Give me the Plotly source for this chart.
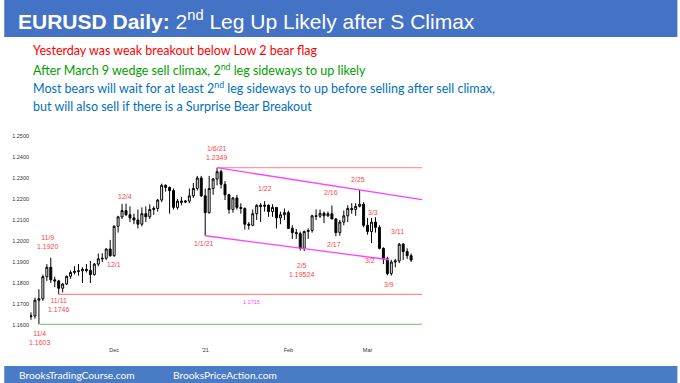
import numpy as np
import pandas as pd
import plotly.graph_objects as go

# ---------------- data ----------------
dates = pd.bdate_range("2020-11-02", "2021-03-16")

opens = [1.1640, 1.1643, 1.1718, 1.1725, 1.1830, 1.1875, 1.1815, 1.1810, 1.1775, 1.1795,
         1.1832, 1.1850, 1.1855, 1.1858, 1.1865, 1.1860, 1.1840, 1.1890, 1.1915, 1.1918,
         1.1962, 1.1930, 1.2070, 1.2115, 1.2145, 1.2125, 1.2110, 1.2100, 1.2080, 1.2130,
         1.2115, 1.2150, 1.2155, 1.2195, 1.2265, 1.2255, 1.2240, 1.2160, 1.2190, 1.2185,
         1.2190, 1.2215, 1.2250, 1.2300, 1.2215, 1.2135, 1.2250, 1.2295, 1.2330, 1.2270,
         1.2220, 1.2150, 1.2205, 1.2160, 1.2155, 1.2080, 1.2075, 1.2130, 1.2170, 1.2165,
         1.2170, 1.2140, 1.2160, 1.2110, 1.2125, 1.2135, 1.2060, 1.2040, 1.2035, 1.1965,
         1.2045, 1.2050, 1.2120, 1.2118, 1.2132, 1.2120, 1.2130, 1.2105, 1.2040, 1.2090,
         1.2120, 1.2155, 1.2150, 1.2165, 1.2175, 1.2075, 1.2045, 1.2090, 1.2065, 1.1965,
         1.1915, 1.1845, 1.1900, 1.1905, 1.1985, 1.1950, 1.1930]
highs = [1.1660, 1.1730, 1.1770, 1.1840, 1.1890, 1.1920, 1.1830, 1.1815, 1.1800, 1.1835,
         1.1860, 1.1880, 1.1890, 1.1875, 1.1890, 1.1905, 1.1895, 1.1940, 1.1942, 1.1965,
         1.2005, 1.2075, 1.2120, 1.2177, 1.2178, 1.2165, 1.2130, 1.2150, 1.2160, 1.2165,
         1.2175, 1.2165, 1.2200, 1.2273, 1.2270, 1.2260, 1.2250, 1.2200, 1.2210, 1.2195,
         1.2250, 1.2276, 1.2310, 1.2310, 1.2250, 1.2310, 1.2300, 1.2349, 1.2340, 1.2285,
         1.2225, 1.2210, 1.2220, 1.2180, 1.2160, 1.2090, 1.2150, 1.2175, 1.2180, 1.2190,
         1.2175, 1.2175, 1.2160, 1.2140, 1.2155, 1.2145, 1.2075, 1.2057, 1.2045, 1.2050,
         1.2060, 1.2125, 1.2150, 1.2150, 1.2140, 1.2140, 1.2169, 1.2110, 1.2100, 1.2145,
         1.2170, 1.2180, 1.2180, 1.2243, 1.2185, 1.2110, 1.2110, 1.2113, 1.2075, 1.1970,
         1.1925, 1.1910, 1.1915, 1.1990, 1.1990, 1.1965, 1.1940]
lows = [1.1625, 1.1630, 1.1603, 1.1715, 1.1810, 1.1800, 1.1780, 1.1746, 1.1755, 1.1790,
        1.1820, 1.1840, 1.1835, 1.1800, 1.1850, 1.1800, 1.1835, 1.1880, 1.1900, 1.1910,
        1.1925, 1.1925, 1.2040, 1.2105, 1.2120, 1.2090, 1.2080, 1.2060, 1.2070, 1.2090,
        1.2105, 1.2125, 1.2140, 1.2185, 1.2235, 1.2130, 1.2150, 1.2150, 1.2170, 1.2180,
        1.2180, 1.2205, 1.2240, 1.2210, 1.2025, 1.2130, 1.2220, 1.2265, 1.2250, 1.2195,
        1.2130, 1.2135, 1.2150, 1.2130, 1.2055, 1.2055, 1.2070, 1.2100, 1.2090, 1.2140,
        1.2115, 1.2115, 1.2060, 1.2080, 1.2100, 1.2060, 1.2010, 1.2010, 1.1955, 1.19524,
        1.2010, 1.2040, 1.2100, 1.2110, 1.2085, 1.2115, 1.2110, 1.2023, 1.2025, 1.2075,
        1.2090, 1.2130, 1.2120, 1.2160, 1.2065, 1.2030, 1.1990, 1.2040, 1.1960, 1.1890,
        1.1836, 1.1835, 1.1875, 1.1895, 1.1910, 1.1915, 1.1900]
closes = [1.1643, 1.1718, 1.1725, 1.1830, 1.1875, 1.1815, 1.1810, 1.1775, 1.1795, 1.1832,
          1.1850, 1.1855, 1.1858, 1.1865, 1.1860, 1.1840, 1.1890, 1.1915, 1.1918, 1.1962,
          1.1930, 1.2070, 1.2115, 1.2145, 1.2125, 1.2110, 1.2100, 1.2080, 1.2130, 1.2115,
          1.2150, 1.2155, 1.2195, 1.2265, 1.2255, 1.2240, 1.2160, 1.2190, 1.2185, 1.2190,
          1.2215, 1.2250, 1.2300, 1.2215, 1.2135, 1.2250, 1.2295, 1.2330, 1.2270, 1.2220,
          1.2150, 1.2205, 1.2160, 1.2155, 1.2080, 1.2075, 1.2130, 1.2170, 1.2165, 1.2170,
          1.2140, 1.2160, 1.2110, 1.2125, 1.2135, 1.2060, 1.2040, 1.2035, 1.1965, 1.2045,
          1.2050, 1.2120, 1.2118, 1.2132, 1.2120, 1.2130, 1.2105, 1.2040, 1.2090, 1.2120,
          1.2155, 1.2150, 1.2165, 1.2175, 1.2075, 1.2045, 1.2090, 1.2065, 1.1965, 1.1915,
          1.1845, 1.1900, 1.1905, 1.1985, 1.1950, 1.1930, 1.1910]

tick_dates = ["2020-12-01", "2021-01-01", "2021-02-01", "2021-03-01"]
tick_text = ["Dec", "'21", "Feb", "Mar"]
price_ticks = [1.16, 1.17, 1.18, 1.19, 1.20, 1.21, 1.22, 1.23, 1.24, 1.25]

# support / resistance levels (start date, price)
level_dates = ["2021-01-06", "2020-11-11", "2020-11-04"]
level_prices = [1.2349, 1.1746, 1.1603]
# channel anchor points
upper_channel_dates = ["2021-01-06", "2021-02-25"]
upper_channel_prices = [1.2349, 1.2243]
lower_channel_dates = ["2021-01-01", "2021-03-08"]
lower_channel_prices = [1.2025, 1.1912]

label_texts = ["11/9<br>1.1920", "12/1", "12/4", "1/6/21<br>1.2349", "1/1/21", "1/22",
               "2/16", "2/25", "3/3", "3/11", "2/17", "3/2", "2/5<br>1.19524", "3/9",
               "11/11<br>1.1746", "11/4<br>1.1603"]

# ---------------- layout helpers ----------------
W, H = 680, 383
L, R, T, B = 26, 422, 126, 345
X0, X1 = -0.25, 98.75
Y0 = 1.25 - (B - 136) / 2100.0
Y1 = 1.25 + (136 - T) / 2100.0


def px(xp):
    return (xp - L) / (R - L)


def py(yp):
    return (B - yp) / (B - T)


xi = np.arange(len(dates))


def idx(d):
    return dates.get_loc(pd.Timestamp(d))


fig = go.Figure()

fig.add_trace(go.Candlestick(
    x=xi, open=opens, high=highs, low=lows, close=closes,
    increasing=dict(line=dict(color="black", width=1), fillcolor="white"),
    decreasing=dict(line=dict(color="black", width=1), fillcolor="black"),
    whiskerwidth=0, hoverinfo="skip", showlegend=False))

level_colors = ["#FF9A9A", "#FF8A8A", "#8CCB8C"]
level_offsets = [0, 0, 0.25]
for d, p, c, o in zip(level_dates, level_prices, level_colors, level_offsets):
    fig.add_trace(go.Scatter(x=[idx(d) + o, X1], y=[p, p], mode="lines",
                             line=dict(color=c, width=1.2), hoverinfo="skip",
                             showlegend=False))

# upper channel line, extended to the right edge
ux = [idx(d) for d in upper_channel_dates]
slope_u = (upper_channel_prices[1] - upper_channel_prices[0]) / (ux[1] - ux[0])
fig.add_trace(go.Scatter(
    x=[ux[0], X1],
    y=[upper_channel_prices[0], upper_channel_prices[0] + slope_u * (X1 - ux[0])],
    mode="lines", line=dict(color="#FF40FF", width=1.3), hoverinfo="skip",
    showlegend=False))
lx = [idx(d) for d in lower_channel_dates]
fig.add_trace(go.Scatter(
    x=[lx[0], lx[1] + 0.5],
    y=[lower_channel_prices[0],
       lower_channel_prices[0] + (lower_channel_prices[1] - lower_channel_prices[0])
       / (lx[1] - lx[0]) * (lx[1] + 0.5 - lx[0])],
    mode="lines", line=dict(color="#FF40FF", width=1.3), hoverinfo="skip",
    showlegend=False))

# label positions (bar index, price)
label_pos = [(4.25, 1.1995), (21, 1.1890), (23.75, 1.2214), (47, 1.2417), (43.75, 1.1990),
             (59, 1.2252), (75.75, 1.2229), (82.5, 1.2295), (86.5, 1.2138), (92.5, 1.2043),
             (76.5, 1.1981), (85.5, 1.1905), (68.25, 1.1864), (90.5, 1.1795),
             (7, 1.1693), (2.25, 1.1540)]
annotations = []
for t, (lxp, lyp) in zip(label_texts, label_pos):
    annotations.append(dict(x=lxp, y=lyp, xref="x", yref="y", text=t, showarrow=False,
                            font=dict(family="Liberation Sans, Arial", size=7, color="#FF4444"),
                            xanchor="center", yanchor="middle", align="center"))
annotations.append(dict(x=55.75, y=1.1710, xref="x", yref="y", text="1.1715", showarrow=False,
                        font=dict(family="Liberation Sans, Arial", size=5.5, color="#FF44FF"),
                        xanchor="center", yanchor="middle"))

# slide texts
annotations.append(dict(
    x=px(12), y=py(19.5), xref="paper", yref="paper", xanchor="left", yanchor="middle",
    text="<b>EURUSD Daily:</b> 2<sup>nd</sup> Leg Up Likely after S Climax", showarrow=False,
    font=dict(family="Liberation Sans, Arial", size=21, color="white")))
lines = [("Yesterday was weak breakout below Low 2 bear flag", "#FF0000", 51),
         ("After March 9 wedge sell climax, 2<sup>nd</sup> leg sideways to up likely", "#00A000", 69.5),
         ("Most bears will wait for at least 2<sup>nd</sup> leg sideways to up before selling after sell climax,", "#0070C0", 88),
         ("but will also sell if there is a Surprise Bear Breakout", "#0070C0", 106)]
for txt, col, yy in lines:
    annotations.append(dict(x=px(27), y=py(yy), xref="paper", yref="paper", xanchor="left",
                            yanchor="middle", text=txt, showarrow=False,
                            font=dict(family="Lato", size=12.5, color=col)))
for txt, xx in [("BrooksTradingCourse.com", 13), ("BrooksPriceAction.com", 168)]:
    annotations.append(dict(x=px(xx), y=py(375), xref="paper", yref="paper", xanchor="left",
                            yanchor="middle", text=txt, showarrow=False,
                            font=dict(family="Lato", size=10.2, color="white")))

shapes = [
    dict(type="rect", xref="paper", yref="paper", x0=px(0), x1=px(W), y0=py(37), y1=py(0),
         fillcolor="#4472C4", line=dict(width=0), layer="below"),
    dict(type="rect", xref="paper", yref="paper", x0=px(0), x1=px(W), y0=py(H), y1=py(366),
         fillcolor="#4A7CC6", line=dict(width=0), layer="below"),
]

fig.update_layout(
    width=W, height=H, margin=dict(l=L, r=W - R, t=T, b=H - B),
    paper_bgcolor="white", plot_bgcolor="white",
    annotations=annotations, shapes=shapes, showlegend=False,
    xaxis=dict(range=[X0, X1], showgrid=False, zeroline=False, showline=False, ticks="",
               tickvals=[idx(d) for d in tick_dates], ticktext=tick_text,
               tickfont=dict(family="Liberation Sans, Arial", size=5.5, color="#333333"),
               rangeslider=dict(visible=False), fixedrange=True),
    yaxis=dict(range=[Y0, Y1], showgrid=False, zeroline=False, showline=False, ticks="",
               tickvals=price_ticks, ticktext=["%.4f" % v for v in price_ticks],
               tickfont=dict(family="Liberation Sans, Arial", size=5.5, color="#333333"),
               fixedrange=True),
)

fig.write_html("out.html", config={"displayModeBar": False},
               post_script="document.body.style.margin='0px';"
                           "document.body.style.overflow='hidden';")
